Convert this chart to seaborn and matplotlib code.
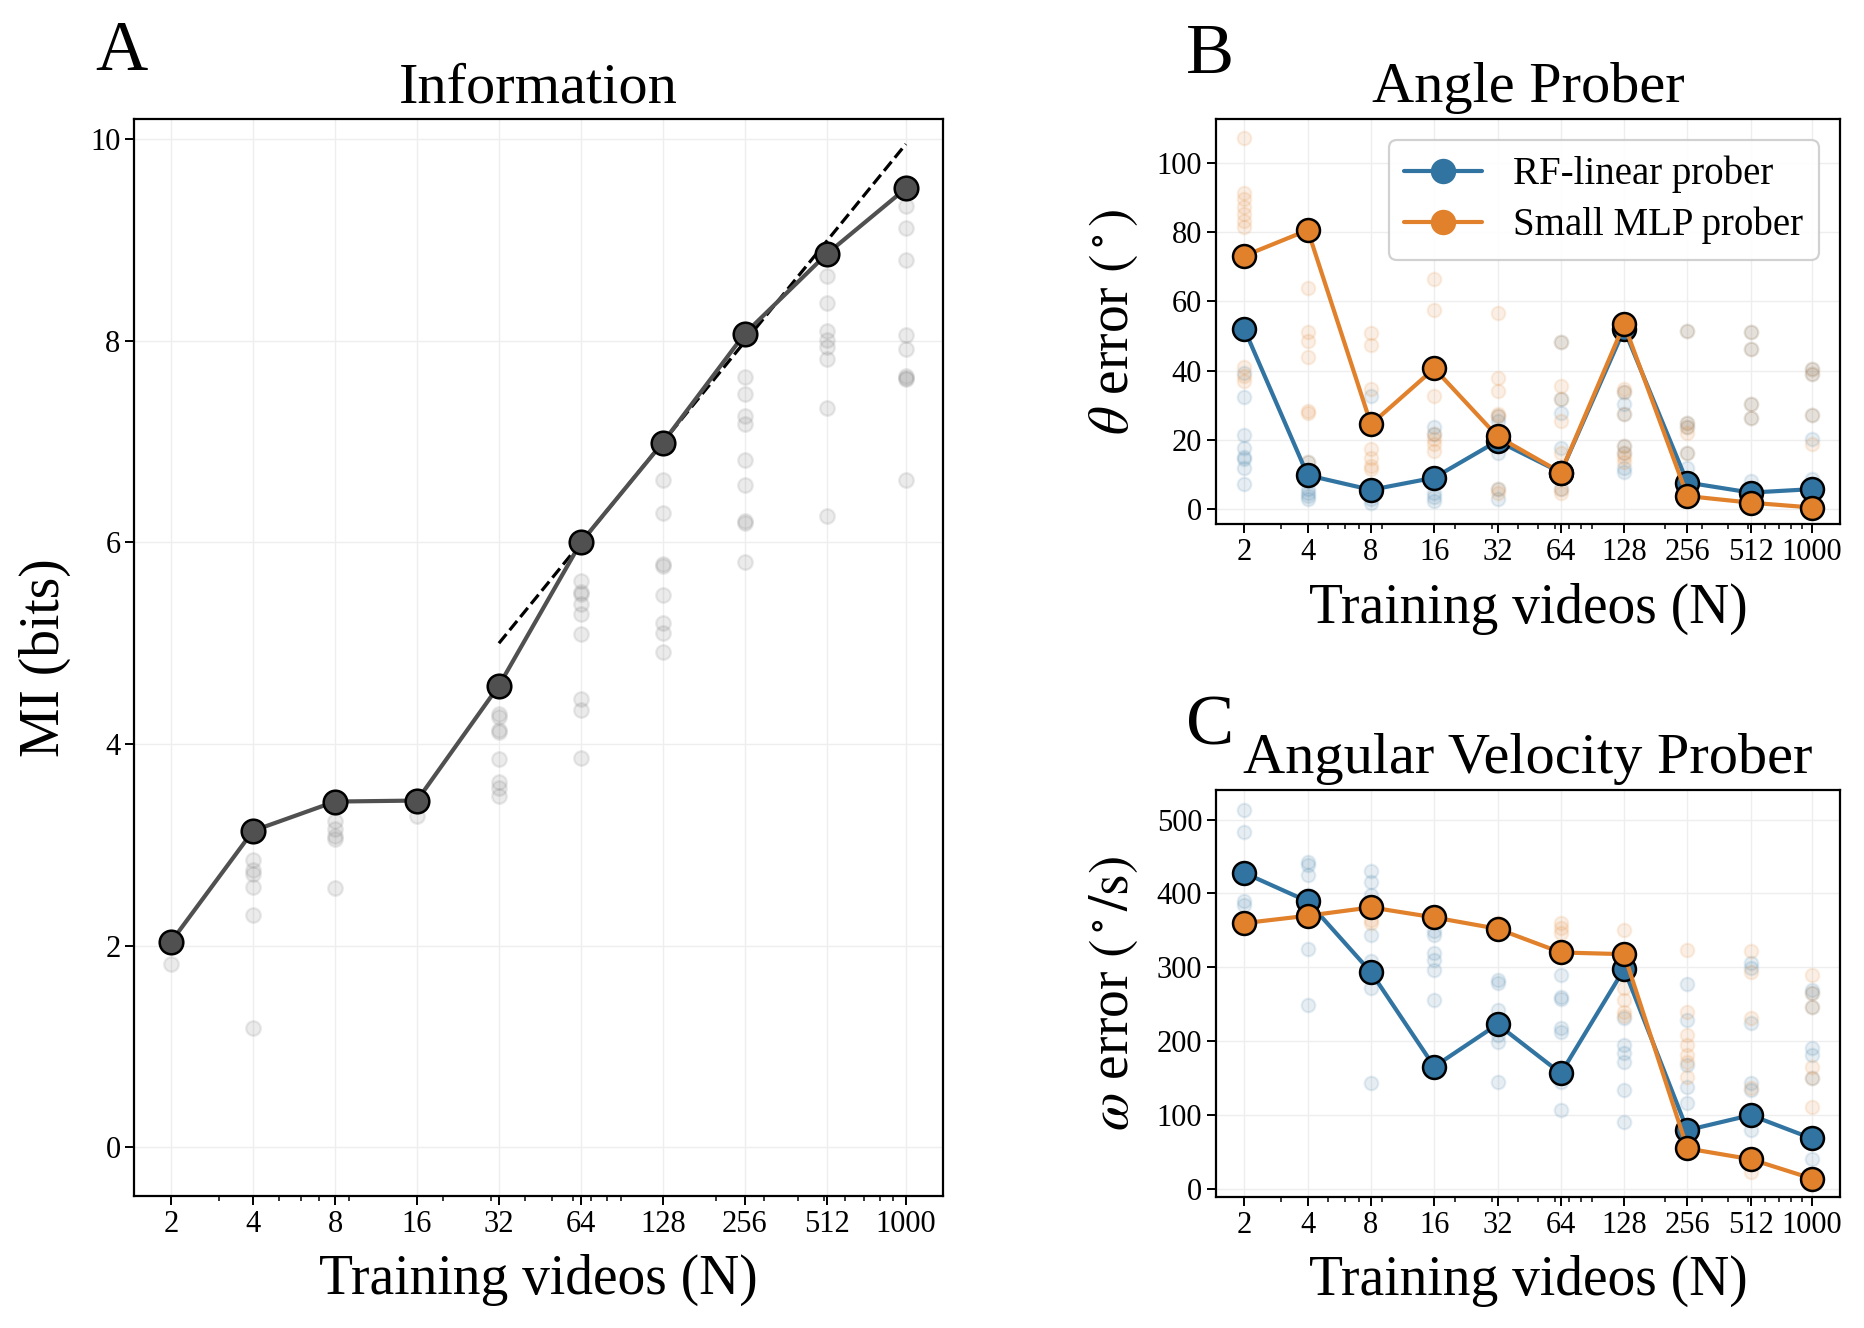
import numpy as np
import pandas as pd
import matplotlib
matplotlib.use("Agg")
import matplotlib.pyplot as plt
from matplotlib.ticker import NullFormatter
import seaborn as sns

# ---------------- data ----------------
N_values = [2, 4, 8, 16, 32, 64, 128, 256, 512, 1000]
N_labels = ["2", "4", "8", "16", "32", "64", "128", "256", "512", "1000"]

# Panel A: mutual information (bits)
mi_main = [2.04, 3.14, 3.43, 3.44, 4.58, 6.00, 6.99, 8.07, 8.86, 9.51]
mi_seeds = [
    [1.82],
    [2.85, 2.75, 2.71, 2.58, 2.31, 1.18],
    [3.24, 3.16, 3.09, 3.06, 2.57],
    [3.29],
    [4.30, 4.27, 4.14, 4.12, 3.85, 3.62, 3.56, 3.49],
    [5.62, 5.51, 5.49, 5.39, 5.29, 5.09, 4.45, 4.34, 3.86],
    [6.62, 6.29, 5.79, 5.77, 5.48, 5.20, 5.10, 4.91],
    [7.64, 7.47, 7.25, 7.17, 6.82, 6.57, 6.21, 6.19, 5.81],
    [8.64, 8.37, 8.10, 8.01, 7.94, 7.82, 7.33, 6.26],
    [9.34, 9.12, 8.80, 8.06, 7.92, 7.65, 7.63, 7.62, 6.62],
]
ref_N = [32, 1000]
ref_mi = [5.00, 9.95]

# Panel B: angle error (deg)
angle_rf_main = [51.9, 9.8, 5.6, 9.1, 19.7, 10.6, 51.9, 7.7, 4.8, 5.8]
angle_mlp_main = [73.1, 80.5, 24.5, 40.6, 21.0, 10.6, 53.4, 3.8, 1.9, 0.5]
angle_rf_seeds = [
    [39.4, 32.4, 21.3, 17.8, 15.1, 14.4, 12.0, 7.4],
    [13.5, 8.2, 5.8, 4.8, 3.8, 2.9],
    [32.7, 2.9, 1.9],
    [23.6, 21.6, 4.8, 3.4, 2.4],
    [26.9, 25.5, 16.3, 5.8, 2.9],
    [48.3, 31.7, 27.9, 17.8, 5.8],
    [33.7, 30.3, 27.4, 18.3, 16.3, 12.0, 10.8],
    [51.4, 25.0, 23.6, 16.3, 12.0, 8.7],
    [51.0, 46.3, 30.3, 26.4, 8.2, 5.8],
    [40.4, 38.9, 27.1, 20.4, 8.7, 7.2],
]
angle_mlp_seeds = [
    [107.0, 91.3, 89.4, 87.3, 85.3, 83.2, 81.3, 40.9, 38.5, 37.0],
    [63.8, 51.0, 48.6, 44.0, 28.4, 27.9, 13.5],
    [50.7, 47.5, 34.6, 17.3, 14.9, 12.5, 11.7],
    [66.3, 57.5, 32.7, 21.6, 20.2, 18.8, 16.8],
    [56.7, 38.0, 34.1, 27.4, 26.9, 5.8, 4.8],
    [48.3, 35.6, 31.7, 25.5, 16.3, 5.8, 4.8],
    [34.6, 33.7, 27.4, 18.3, 16.3, 15.2, 13.5],
    [51.4, 25.0, 23.6, 22.1, 16.3],
    [51.0, 46.3, 30.3, 26.4],
    [40.4, 38.9, 27.1, 18.8],
]

# Panel C: angular velocity error (deg/s)
omega_rf_main = [427.6, 389.1, 293.2, 165.2, 222.6, 156.1, 297.3, 79.2, 99.5, 67.9]
omega_mlp_main = [359.7, 369.7, 381.0, 367.4, 352.0, 319.9, 317.6, 54.3, 39.8, 13.6]
omega_rf_seeds = [
    [513.6, 482.8, 389.1, 383.7],
    [442.5, 438.0, 424.4, 398.2, 324.4, 248.9],
    [429.9, 414.9, 398.2, 343.0, 307.7, 271.5, 142.5],
    [348.4, 343.9, 319.0, 310.0, 296.4, 255.7],
    [282.8, 278.3, 242.1, 208.1, 199.1, 143.9],
    [289.6, 260.2, 257.0, 217.2, 212.7, 144.8, 106.3],
    [230.8, 194.6, 183.3, 171.9, 133.5, 90.5],
    [276.9, 228.5, 167.4, 138.0, 115.4],
    [305.4, 298.6, 224.0, 142.5, 133.5, 79.2],
    [269.2, 264.7, 246.6, 190.0, 181.0, 149.3, 40.7],
]
omega_mlp_seeds = [
    [362.0, 357.0],
    [372.0, 366.0],
    [385.0, 364.3, 360.0],
    [372.0, 362.0],
    [360.0, 355.0],
    [359.7, 352.9, 346.2],
    [350.7, 271.5, 255.7, 239.8, 233.9],
    [323.5, 239.8, 208.1, 194.6, 181.0, 171.9, 151.6],
    [321.3, 294.1, 230.8, 135.7, 22.6],
    [289.6, 264.7, 246.6, 165.2, 149.3, 110.9],
]

series_names = ["RF-linear prober", "Small MLP prober"]

# ---------------- style ----------------
sns.set_theme(style="ticks")
plt.rcParams["font.family"] = ["Liberation Serif", "DejaVu Serif"]
plt.rcParams["mathtext.fontset"] = "stix"
plt.rcParams["axes.edgecolor"] = "black"
plt.rcParams["axes.linewidth"] = 1.6
plt.rcParams["text.color"] = "black"
plt.rcParams["axes.labelcolor"] = "black"
plt.rcParams["axes.titlecolor"] = "black"
plt.rcParams["xtick.color"] = "black"
plt.rcParams["ytick.color"] = "black"

BLUE = "#3274A1"
ORANGE = "#E1812C"
GRAY = "#505050"

TITLE_FS = 42
LABEL_FS = 40
TICK_FS = 22
LEGEND_FS = 28
PANEL_FS = 52


def long_df(seeds):
    rows = []
    for n, vals in zip(N_values, seeds):
        for v in vals:
            rows.append((n, v))
    return pd.DataFrame(rows, columns=["N", "value"])


def style_axis(ax):
    ax.set_xscale("log")
    ax.set_xticks(N_values, labels=N_labels)
    ax.xaxis.set_minor_formatter(NullFormatter())
    ax.tick_params(axis="both", which="major", labelsize=TICK_FS, length=6.5,
                   width=1.4, color="black", labelcolor="black", direction="out")
    ax.tick_params(axis="both", which="minor", length=3.8, width=1.1,
                   color="black", direction="out")
    ax.grid(True, which="major", color="#eeeeee", linewidth=1.0)
    ax.set_axisbelow(True)
    for s in ax.spines.values():
        s.set_visible(True)
        s.set_color("black")
        s.set_linewidth(1.6)


fig = plt.figure(figsize=(18.64, 13.28), dpi=100)
axA = fig.add_axes([0.0721, 0.0995, 0.4336, 0.8110])
axB = fig.add_axes([0.6524, 0.6053, 0.3348, 0.3052])
axC = fig.add_axes([0.6524, 0.0986, 0.3348, 0.3065])

# ---------------- Panel A ----------------
style_axis(axA)
sns.scatterplot(data=long_df(mi_seeds), x="N", y="value", ax=axA, color="#7a7a7a",
                alpha=0.15, s=110, edgecolor="#7a7a7a", linewidth=1.7, zorder=2,
                legend=False)
sns.lineplot(x=ref_N, y=ref_mi, ax=axA, color="black", linestyle="--",
             linewidth=2.3, zorder=3)
sns.lineplot(x=N_values, y=mi_main, ax=axA, color=GRAY, linewidth=3.0,
             marker="o", markersize=17, markeredgecolor="black",
             markeredgewidth=1.8, zorder=4)
for ln in axA.lines[-1:]:
    ln.set_markeredgecolor("black")
    ln.set_markerfacecolor(GRAY)
axA.set_ylim(-0.48, 10.2)
axA.set_yticks([0, 2, 4, 6, 8, 10])
axA.set_title("Information", fontsize=TITLE_FS, pad=12)
axA.set_xlabel("Training videos (N)", fontsize=LABEL_FS, labelpad=11)
axA.set_ylabel("MI (bits)", fontsize=LABEL_FS, labelpad=14)


# ---------------- Panels B & C ----------------
def prober_panel(ax, rf_main, mlp_main, rf_seeds, mlp_seeds):
    style_axis(ax)
    sns.scatterplot(data=long_df(rf_seeds), x="N", y="value", ax=ax, color=BLUE,
                    alpha=0.12, s=95, edgecolor=BLUE, linewidth=1.6, zorder=2,
                    legend=False)
    sns.scatterplot(data=long_df(mlp_seeds), x="N", y="value", ax=ax, color=ORANGE,
                    alpha=0.12, s=95, edgecolor=ORANGE, linewidth=1.6, zorder=2,
                    legend=False)
    for vals, col, name in [(rf_main, BLUE, series_names[0]),
                            (mlp_main, ORANGE, series_names[1])]:
        sns.lineplot(x=N_values, y=vals, ax=ax, color=col, linewidth=3.0,
                     marker="o", markersize=16.5, markeredgecolor="black",
                     markeredgewidth=1.8, label=name, zorder=4, legend=False)
        ln = ax.lines[-1]
        ln.set_markeredgecolor("black")
        ln.set_markerfacecolor(col)
    ax.set_xlabel("Training videos (N)", fontsize=LABEL_FS, labelpad=11)


prober_panel(axB, angle_rf_main, angle_mlp_main, angle_rf_seeds, angle_mlp_seeds)
axB.set_ylim(-4.3, 112.6)
axB.set_yticks([0, 20, 40, 60, 80, 100])
axB.set_title("Angle Prober", fontsize=TITLE_FS, pad=12)
axB.set_ylabel(r"$\theta$ error $(^\circ)$", fontsize=LABEL_FS, labelpad=12)
leg = axB.legend(loc="upper right", fontsize=LEGEND_FS, frameon=True,
                 fancybox=True, edgecolor="#cccccc", framealpha=0.9,
                 borderaxespad=0.55, handlelength=2.0, borderpad=0.4,
                 labelspacing=0.35, handletextpad=0.8)
leg.get_frame().set_linewidth(1.6)
for h in leg.legend_handles:
    h.set_markeredgecolor(h.get_color())

prober_panel(axC, omega_rf_main, omega_mlp_main, omega_rf_seeds, omega_mlp_seeds)
axC.set_ylim(-11.5, 540)
axC.set_yticks([0, 100, 200, 300, 400, 500])
axC.set_title("Angular Velocity Prober", fontsize=TITLE_FS, pad=12)
axC.set_ylabel(r"$\omega$ error $(^\circ/\mathrm{s})$", fontsize=LABEL_FS, labelpad=12)

# panel letters
fig.text(0.051, 0.985, "A", fontsize=PANEL_FS, va="top", ha="left")
fig.text(0.636, 0.983, "B", fontsize=PANEL_FS, va="top", ha="left")
fig.text(0.636, 0.477, "C", fontsize=PANEL_FS, va="top", ha="left")

fig.savefig("out.png", dpi=100, facecolor="white")
